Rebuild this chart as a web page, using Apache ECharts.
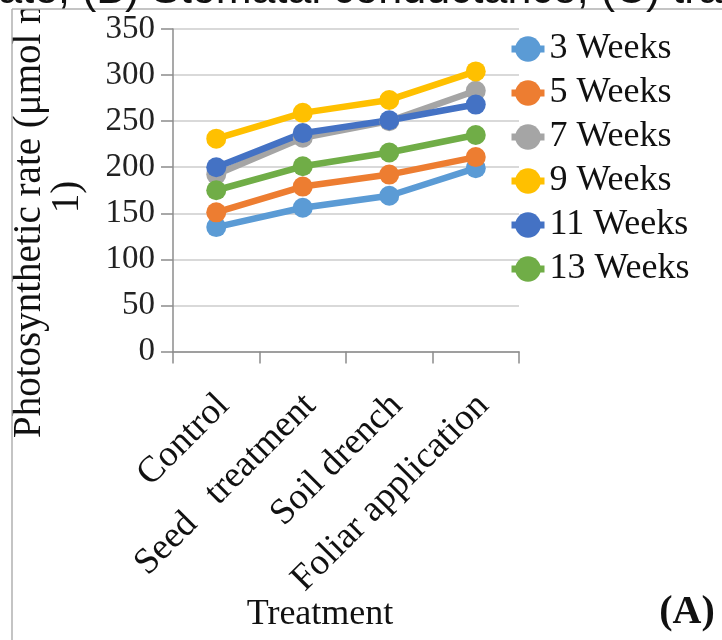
<!DOCTYPE html>
<html>
<head>
<meta charset="utf-8">
<script src="https://cdn.jsdelivr.net/npm/echarts@6/dist/echarts.min.js"></script>
<style>html,body{margin:0;padding:0;background:#fff;}#c{width:722px;height:640px;}</style>
</head>
<body>
<div id="c"></div>
<script>
var categories = ['Control', 'Seed   treatment', 'Soil drench', 'Foliar application'];
var seriesNames = ['3 Weeks', '5 Weeks', '7 Weeks', '9 Weeks', '11 Weeks', '13 Weeks'];
var weeks3 = [135, 156, 169, 199];
var weeks5 = [151, 179, 192, 211];
var weeks7 = [192, 232, 250, 283];
var weeks9 = [231, 259, 273, 304];
var weeks11 = [200, 237, 251, 268];
var weeks13 = [175, 201, 216, 235];
var seriesValues = [weeks3, weeks5, weeks7, weeks9, weeks11, weeks13];
var colors = ['#5B9BD5', '#ED7D31', '#A5A5A5', '#FFC000', '#4472C4', '#70AD47'];
var yMin = 0, yMax = 350, yStep = 50;
var yTitleLine1 = 'Photosynthetic rate (\u03bcmol m-2 s-';
var yTitleLine2 = '1)';
var xTitle = 'Treatment';
var panelLabel = '(A)';
var captionText = 'rate; (B) Stomatal conductance; (C) transpiration';

var serif = '"Liberation Serif", "Times New Roman", serif';
var chart = echarts.init(document.getElementById('c'), null, {renderer: 'canvas'});

var series = seriesNames.map(function (name, i) {
  return {
    name: name,
    type: 'line',
    data: seriesValues[i],
    symbol: 'circle',
    symbolSize: 20,
    showSymbol: true,
    lineStyle: {width: 6.5, color: colors[i]},
    itemStyle: {color: colors[i]},
    emphasis: {disabled: true},
    animation: false
  };
});

chart.setOption({
  animation: false,
  color: colors,
  grid: {left: 173, right: 203, top: 29, bottom: 288.5, containLabel: false},
  legend: {
    orient: 'vertical',
    left: 503,
    top: 26,
    itemWidth: 33,
    itemHeight: 32,
    itemGap: 8,
    lineStyle: {width: 7},
    textStyle: {fontFamily: serif, fontSize: 36, color: '#111'},
    data: seriesNames
  },
  xAxis: {
    type: 'category',
    data: categories,
    boundaryGap: true,
    axisLine: {show: true, lineStyle: {color: '#8c8c8c', width: 1.5}},
    axisTick: {show: true, length: 12, lineStyle: {color: '#8c8c8c', width: 1.5}},
    axisLabel: {
      rotate: 45,
      margin: 27,
      align: 'right',
      verticalAlign: 'top',
      padding: [2, 10, 0, 0],
      interval: 0,
      fontFamily: serif,
      fontSize: 37,
      color: '#111'
    },
    splitLine: {show: false}
  },
  yAxis: {
    type: 'value',
    min: yMin,
    max: yMax,
    interval: yStep,
    axisLine: {show: true, lineStyle: {color: '#8c8c8c', width: 1.5}},
    axisTick: {show: true, length: 12, lineStyle: {color: '#8c8c8c', width: 1.5}},
    axisLabel: {margin: 18, fontFamily: serif, fontSize: 33, color: '#222'},
    splitLine: {show: true, lineStyle: {color: '#d9d9d9', width: 2}}
  },
  graphic: [
    {
      type: 'text', z: 1,
      x: 30, y: 438, rotation: Math.PI / 2,
      style: {text: yTitleLine1, fontFamily: serif, fontSize: 39,
        fill: '#111', align: 'left', verticalAlign: 'middle'}
    },
    {
      type: 'text', z: 1,
      x: 68, y: 197, rotation: Math.PI / 2,
      style: {text: yTitleLine2, fontFamily: serif, fontSize: 39,
        fill: '#111', align: 'center', verticalAlign: 'middle'}
    },
    {
      type: 'rect', z: 2,
      shape: {x: 0, y: -60, width: 722, height: 69},
      style: {fill: '#fff'}
    },
    {
      type: 'line', z: 3,
      shape: {x1: 12, y1: 9, x2: 722, y2: 9},
      style: {stroke: '#b0b0b0', lineWidth: 1.5}
    },
    {
      type: 'line', z: 3,
      shape: {x1: 12, y1: 9, x2: 12, y2: 640},
      style: {stroke: '#b0b0b0', lineWidth: 1.5}
    },
    {
      type: 'text', z: 4,
      x: -16, y: -9,
      style: {text: captionText, fontFamily: '"Liberation Sans", Arial, sans-serif', fontSize: 43,
        fill: '#111', align: 'left', verticalAlign: 'middle'}
    },
    {
      type: 'text', z: 3,
      x: 320, y: 615,
      style: {text: xTitle, fontFamily: serif, fontSize: 36, fill: '#111', align: 'center', verticalAlign: 'middle'}
    },
    {
      type: 'text', z: 3,
      x: 687, y: 613,
      style: {text: panelLabel, fontFamily: serif, fontSize: 40, fontWeight: 'bold', fill: '#111', align: 'center', verticalAlign: 'middle'}
    }
  ],
  series: series
});
</script>
</body>
</html>
